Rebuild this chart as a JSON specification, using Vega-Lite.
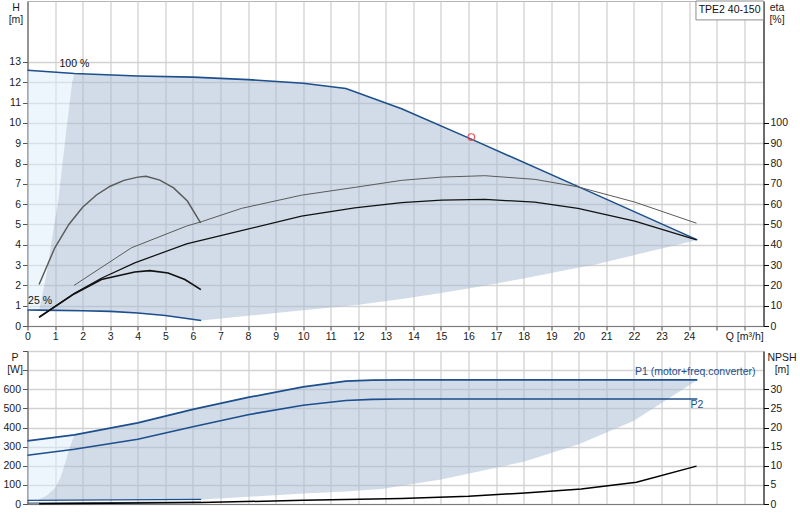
{
  "$schema": "https://vega.github.io/schema/vega-lite/v6.json",
  "background": "white",
  "padding": {"left": 1.5, "top": 0, "right": 0, "bottom": 0},
  "config": {
    "font": "Liberation Sans",
    "view": {"stroke": "#b4b4b4", "strokeWidth": 1},
    "axis": {
      "labelFont": "Liberation Sans", "labelFontSize": 10.5, "labelColor": "#1a1a1a",
      "titleFont": "Liberation Sans", "titleFontSize": 10.5, "titleFontWeight": "normal", "titleColor": "#1a1a1a",
      "gridColor": "#d2d2d2", "gridWidth": 1.3, "tickSize": 5, "labelPadding": 2,
      "labelFlush": false, "labelOverlap": false, "titleLineHeight": 12
    },
    "text": {"font": "Liberation Sans", "fontSize": 10.5}
  },
  "datasets": {
    "head": [
      {"curve": "100 %", "Q": 0, "H": 12.59}, {"curve": "100 %", "Q": 1.7, "H": 12.43}, {"curve": "100 %", "Q": 4, "H": 12.31},
      {"curve": "100 %", "Q": 6, "H": 12.25}, {"curve": "100 %", "Q": 8, "H": 12.13}, {"curve": "100 %", "Q": 10, "H": 11.95},
      {"curve": "100 %", "Q": 11.55, "H": 11.69}, {"curve": "100 %", "Q": 13.57, "H": 10.7}, {"curve": "100 %", "Q": 16.1, "H": 9.2},
      {"curve": "100 %", "Q": 20, "H": 6.85}, {"curve": "100 %", "Q": 24.3, "H": 4.24},
      {"curve": "25 %", "Q": 0, "H": 0.79}, {"curve": "25 %", "Q": 0.42, "H": 0.78}, {"curve": "25 %", "Q": 2, "H": 0.75},
      {"curve": "25 %", "Q": 3, "H": 0.72}, {"curve": "25 %", "Q": 4, "H": 0.64}, {"curve": "25 %", "Q": 5, "H": 0.52},
      {"curve": "25 %", "Q": 6.3, "H": 0.27}
    ],
    "headArea": [
      {"zone": "low", "Q": 0, "H": 12.59, "H_low": 0.79}, {"zone": "low", "Q": 0.42, "H": 12.55, "H_low": 0.78},
      {"zone": "low", "Q": 0.55, "H": 12.54, "H_low": 1.6}, {"zone": "low", "Q": 0.69, "H": 12.53, "H_low": 2.53},
      {"zone": "low", "Q": 0.93, "H": 12.5, "H_low": 4.67}, {"zone": "low", "Q": 1.11, "H": 12.48, "H_low": 6.1},
      {"zone": "low", "Q": 1.39, "H": 12.46, "H_low": 9.4}, {"zone": "low", "Q": 1.62, "H": 12.44, "H_low": 12.0},
      {"zone": "low", "Q": 1.7, "H": 12.43, "H_low": 12.43},
      {"zone": "range", "Q": 0.42, "H": 0.78, "H_low": 0.78}, {"zone": "range", "Q": 0.55, "H": 1.6, "H_low": 0.78},
      {"zone": "range", "Q": 0.69, "H": 2.53, "H_low": 0.775}, {"zone": "range", "Q": 0.93, "H": 4.67, "H_low": 0.77},
      {"zone": "range", "Q": 1.11, "H": 6.1, "H_low": 0.77}, {"zone": "range", "Q": 1.39, "H": 9.4, "H_low": 0.765},
      {"zone": "range", "Q": 1.62, "H": 12.0, "H_low": 0.76}, {"zone": "range", "Q": 1.7, "H": 12.43, "H_low": 0.755},
      {"zone": "range", "Q": 2, "H": 12.41, "H_low": 0.75}, {"zone": "range", "Q": 3, "H": 12.36, "H_low": 0.72},
      {"zone": "range", "Q": 4, "H": 12.31, "H_low": 0.64}, {"zone": "range", "Q": 5, "H": 12.28, "H_low": 0.52},
      {"zone": "range", "Q": 6, "H": 12.25, "H_low": 0.33}, {"zone": "range", "Q": 6.3, "H": 12.24, "H_low": 0.27},
      {"zone": "range", "Q": 8, "H": 12.13, "H_low": 0.5}, {"zone": "range", "Q": 9, "H": 12.04, "H_low": 0.64},
      {"zone": "range", "Q": 10, "H": 11.95, "H_low": 0.77}, {"zone": "range", "Q": 11.55, "H": 11.69, "H_low": 0.98},
      {"zone": "range", "Q": 12, "H": 11.47, "H_low": 1.05}, {"zone": "range", "Q": 13.57, "H": 10.7, "H_low": 1.33},
      {"zone": "range", "Q": 15, "H": 9.86, "H_low": 1.63}, {"zone": "range", "Q": 16.1, "H": 9.2, "H_low": 1.87},
      {"zone": "range", "Q": 18, "H": 8.03, "H_low": 2.34}, {"zone": "range", "Q": 20, "H": 6.85, "H_low": 2.88},
      {"zone": "range", "Q": 20.5, "H": 6.55, "H_low": 2.99}, {"zone": "range", "Q": 22.1, "H": 5.58, "H_low": 3.52},
      {"zone": "range", "Q": 24.3, "H": 4.24, "H_low": 4.24}
    ],
    "eta": [
      {"curve": "pump", "Q": 1.69, "eta": 20}, {"curve": "pump", "Q": 3.77, "eta": 38.5}, {"curve": "pump", "Q": 5.77, "eta": 49.2},
      {"curve": "pump", "Q": 6.3, "eta": 51.3}, {"curve": "pump", "Q": 7.76, "eta": 57.9}, {"curve": "pump", "Q": 9.94, "eta": 64.4},
      {"curve": "pump", "Q": 11.9, "eta": 68.3}, {"curve": "pump", "Q": 13.57, "eta": 71.7}, {"curve": "pump", "Q": 15.02, "eta": 73.3},
      {"curve": "pump", "Q": 16.59, "eta": 74.0}, {"curve": "pump", "Q": 18.4, "eta": 72.2}, {"curve": "pump", "Q": 19.97, "eta": 68.5},
      {"curve": "pump", "Q": 22.03, "eta": 61}, {"curve": "pump", "Q": 24.27, "eta": 50.6},
      {"curve": "total", "Q": 0.42, "eta": 4.3}, {"curve": "total", "Q": 1.69, "eta": 16}, {"curve": "total", "Q": 2.68, "eta": 23.5},
      {"curve": "total", "Q": 3.89, "eta": 31.1}, {"curve": "total", "Q": 5.77, "eta": 40.4}, {"curve": "total", "Q": 7.76, "eta": 47.0},
      {"curve": "total", "Q": 9.94, "eta": 54.1}, {"curve": "total", "Q": 11.87, "eta": 58.2}, {"curve": "total", "Q": 13.57, "eta": 60.7},
      {"curve": "total", "Q": 15.02, "eta": 62.0}, {"curve": "total", "Q": 16.59, "eta": 62.3}, {"curve": "total", "Q": 18.4, "eta": 61.0},
      {"curve": "total", "Q": 19.97, "eta": 57.9}, {"curve": "total", "Q": 22.03, "eta": 51.6}, {"curve": "total", "Q": 24.27, "eta": 42.4},
      {"curve": "pump 25 %", "Q": 0.42, "eta": 20.4}, {"curve": "pump 25 %", "Q": 0.99, "eta": 38.5}, {"curve": "pump 25 %", "Q": 1.5, "eta": 50},
      {"curve": "pump 25 %", "Q": 2.0, "eta": 58.5}, {"curve": "pump 25 %", "Q": 2.5, "eta": 64.5}, {"curve": "pump 25 %", "Q": 3.0, "eta": 68.8},
      {"curve": "pump 25 %", "Q": 3.5, "eta": 71.7}, {"curve": "pump 25 %", "Q": 4.0, "eta": 73.3}, {"curve": "pump 25 %", "Q": 4.3, "eta": 73.7},
      {"curve": "pump 25 %", "Q": 4.8, "eta": 71.8}, {"curve": "pump 25 %", "Q": 5.3, "eta": 68.0}, {"curve": "pump 25 %", "Q": 5.8, "eta": 61.5},
      {"curve": "pump 25 %", "Q": 6.28, "eta": 50.8},
      {"curve": "total 25 %", "Q": 0.42, "eta": 4.3}, {"curve": "total 25 %", "Q": 1.69, "eta": 15.8}, {"curve": "total 25 %", "Q": 2.68, "eta": 22.9},
      {"curve": "total 25 %", "Q": 3.89, "eta": 26.6}, {"curve": "total 25 %", "Q": 4.44, "eta": 27.3}, {"curve": "total 25 %", "Q": 5.1, "eta": 26.1},
      {"curve": "total 25 %", "Q": 5.71, "eta": 22.9}, {"curve": "total 25 %", "Q": 6.29, "eta": 17.9}
    ],
    "power": [
      {"curve": "P1", "Q": 0, "P": 330}, {"curve": "P1", "Q": 1.7, "P": 361}, {"curve": "P1", "Q": 4, "P": 424},
      {"curve": "P1", "Q": 6, "P": 495}, {"curve": "P1", "Q": 8, "P": 557}, {"curve": "P1", "Q": 10, "P": 613},
      {"curve": "P1", "Q": 11.55, "P": 642}, {"curve": "P1", "Q": 12.5, "P": 648}, {"curve": "P1", "Q": 13.57, "P": 649},
      {"curve": "P1", "Q": 24.3, "P": 649},
      {"curve": "P2", "Q": 0, "P": 255}, {"curve": "P2", "Q": 1.7, "P": 286}, {"curve": "P2", "Q": 4, "P": 339},
      {"curve": "P2", "Q": 6, "P": 404}, {"curve": "P2", "Q": 8, "P": 467}, {"curve": "P2", "Q": 10, "P": 516},
      {"curve": "P2", "Q": 11.55, "P": 541}, {"curve": "P2", "Q": 12.5, "P": 547}, {"curve": "P2", "Q": 13.57, "P": 549},
      {"curve": "P2", "Q": 24.3, "P": 549},
      {"curve": "P1 25 %", "Q": 0, "P": 19}, {"curve": "P1 25 %", "Q": 6.3, "P": 24},
      {"curve": "P2 25 %", "Q": 0, "P": 5}, {"curve": "P2 25 %", "Q": 6.3, "P": 10}
    ],
    "powerArea": [
      {"zone": "low", "Q": 0, "P": 330, "P_low": 18}, {"zone": "low", "Q": 0.35, "P": 336, "P_low": 20},
      {"zone": "low", "Q": 0.7, "P": 343, "P_low": 45}, {"zone": "low", "Q": 1.0, "P": 349, "P_low": 84},
      {"zone": "low", "Q": 1.2, "P": 353, "P_low": 140}, {"zone": "low", "Q": 1.35, "P": 355, "P_low": 207},
      {"zone": "low", "Q": 1.53, "P": 358, "P_low": 295}, {"zone": "low", "Q": 1.7, "P": 361, "P_low": 361},
      {"zone": "range", "Q": 0.35, "P": 20, "P_low": 20}, {"zone": "range", "Q": 0.7, "P": 45, "P_low": 20},
      {"zone": "range", "Q": 1.0, "P": 84, "P_low": 20}, {"zone": "range", "Q": 1.2, "P": 140, "P_low": 20.5},
      {"zone": "range", "Q": 1.35, "P": 207, "P_low": 20.5}, {"zone": "range", "Q": 1.53, "P": 295, "P_low": 20.5},
      {"zone": "range", "Q": 1.7, "P": 361, "P_low": 21}, {"zone": "range", "Q": 4, "P": 424, "P_low": 22},
      {"zone": "range", "Q": 6, "P": 495, "P_low": 24}, {"zone": "range", "Q": 6.3, "P": 504, "P_low": 24},
      {"zone": "range", "Q": 8, "P": 557, "P_low": 38}, {"zone": "range", "Q": 10, "P": 613, "P_low": 55},
      {"zone": "range", "Q": 11.55, "P": 642, "P_low": 66}, {"zone": "range", "Q": 12.84, "P": 648, "P_low": 78},
      {"zone": "range", "Q": 13.57, "P": 649, "P_low": 95}, {"zone": "range", "Q": 15, "P": 649, "P_low": 128},
      {"zone": "range", "Q": 18, "P": 649, "P_low": 221}, {"zone": "range", "Q": 20, "P": 649, "P_low": 312},
      {"zone": "range", "Q": 22, "P": 649, "P_low": 435}, {"zone": "range", "Q": 24.3, "P": 649, "P_low": 649}
    ],
    "npsh": [
      {"Q": 0.42, "NPSH": 0.05}, {"Q": 3, "NPSH": 0.2}, {"Q": 6.3, "NPSH": 0.4}, {"Q": 10, "NPSH": 0.95},
      {"Q": 13.57, "NPSH": 1.45}, {"Q": 16, "NPSH": 2.0}, {"Q": 18.04, "NPSH": 2.9}, {"Q": 20.09, "NPSH": 3.95},
      {"Q": 22.09, "NPSH": 5.7}, {"Q": 24.27, "NPSH": 9.9}
    ]
  },
  "spacing": 25,
  "bounds": "flush",
  "resolve": {"scale": {"color": "independent", "strokeWidth": "independent"}},
  "vconcat": [
    {
      "width": 736,
      "height": 325,
      "encoding": {
        "x": {
          "field": "Q", "type": "quantitative",
          "scale": {"domain": [0, 26.7], "nice": false, "zero": false},
          "axis": {
            "values": [0, 1, 2, 3, 4, 5, 6, 7, 8, 9, 10, 11, 12, 13, 14, 15, 16, 17, 18, 19, 20, 21, 22, 23, 24, 25, 26],
            "labelExpr": "datum.value == 26 ? 'Q [m³/h]' : (datum.value == 25 ? '' : datum.label)",
            "title": null, "grid": true, "tickSize": 4, "labelPadding": 1,
            "domainColor": "#7a7a7a", "tickColor": "#444"
          }
        }
      },
      "layer": [
        {
          "encoding": {
            "y": {
              "field": "H", "type": "quantitative",
              "scale": {"domain": [0, 16], "nice": false},
              "axis": {
                "values": [0, 1, 2, 3, 4, 5, 6, 7, 8, 9, 10, 11, 12, 13],
                "title": ["H", "[m]"], "titleAngle": 0, "titleAlign": "center", "titleBaseline": "top",
                "titleX": -12, "titleY": 1, "grid": true,
                "domainColor": "#555", "tickColor": "#555"
              }
            }
          },
          "layer": [
            {
              "data": {"values": [{"H": 14}, {"H": 15}]},
              "mark": {"type": "rule", "color": "#d2d2d2", "strokeWidth": 1.3}
            },
            {
              "data": {"name": "headArea"},
              "transform": [{"filter": "datum.zone == 'low'"}],
              "mark": {"type": "area", "color": "#dbebfb", "opacity": 0.5},
              "encoding": {"y2": {"field": "H_low"}}
            },
            {
              "data": {"name": "headArea"},
              "transform": [{"filter": "datum.zone == 'range'"}],
              "mark": {"type": "area", "color": "#a3bad2", "opacity": 0.5},
              "encoding": {"y2": {"field": "H_low"}}
            },
            {
              "data": {"name": "head"},
              "mark": {"type": "line", "color": "#1c4f8c", "strokeWidth": 1.6},
              "encoding": {"detail": {"field": "curve", "type": "nominal"}}
            },
            {
              "data": {"values": [{"Q": 16.1, "H": 9.3}]},
              "mark": {"type": "point", "shape": "circle", "filled": false, "color": "#e8505a", "size": 45, "strokeWidth": 1.2, "opacity": 1}
            },
            {
              "data": {"values": [{"text": "100 %", "Q": 1.16, "H": 12.9}, {"text": "25 %", "Q": 0.02, "H": 1.22}]},
              "mark": {"type": "text", "align": "left", "baseline": "middle", "color": "#111"},
              "encoding": {"text": {"field": "text"}}
            },
            {
              "data": {"values": [{"Q": 24.25, "Q2": 26.7, "H": 16, "H_low": 15.07}]},
              "mark": {"type": "rect", "fill": "white", "stroke": "#8c8c8c", "strokeWidth": 1},
              "encoding": {"x2": {"field": "Q2"}, "y2": {"field": "H_low"}}
            },
            {
              "data": {"values": [{"text": "TPE2 40-150", "Q": 25.47, "H": 15.56}]},
              "mark": {"type": "text", "align": "center", "baseline": "middle", "color": "#111"},
              "encoding": {"text": {"field": "text"}}
            }
          ]
        },
        {
          "data": {"name": "eta"},
          "mark": {"type": "line"},
          "encoding": {
            "y": {
              "field": "eta", "type": "quantitative",
              "scale": {"domain": [0, 160], "nice": false},
              "axis": {
                "orient": "right",
                "values": [0, 10, 20, 30, 40, 50, 60, 70, 80, 90, 100],
                "title": ["eta", "[%]"], "titleAngle": 0, "titleAlign": "center", "titleBaseline": "top",
                "titleX": 13, "titleY": 1, "grid": false,
                "domainColor": "#000", "tickColor": "#000", "labelPadding": 1.5
              }
            },
            "color": {
              "field": "curve", "type": "nominal", "legend": null,
              "scale": {"domain": ["pump", "total", "pump 25 %", "total 25 %"], "range": ["#5a5a5a", "#111111", "#5a5a5a", "#111111"]}
            },
            "strokeWidth": {
              "field": "curve", "type": "nominal", "legend": null,
              "scale": {"domain": ["pump", "total", "pump 25 %", "total 25 %"], "range": [1, 1.7, 1, 1.7]}
            }
          }
        }
      ],
      "resolve": {"scale": {"y": "independent"}}
    },
    {
      "width": 736,
      "height": 153,
      "encoding": {
        "x": {
          "field": "Q", "type": "quantitative",
          "scale": {"domain": [0, 26.7], "nice": false, "zero": false},
          "axis": {
            "values": [0, 1, 2, 3, 4, 5, 6, 7, 8, 9, 10, 11, 12, 13, 14, 15, 16, 17, 18, 19, 20, 21, 22, 23, 24, 25, 26],
            "labels": false, "ticks": false, "title": null, "grid": true, "domainColor": "#7a7a7a"
          }
        }
      },
      "layer": [
        {
          "encoding": {
            "y": {
              "field": "P", "type": "quantitative",
              "scale": {"domain": [0, 800], "nice": false},
              "axis": {
                "values": [0, 100, 200, 300, 400, 500, 600, 700, 800],
                "labelExpr": "datum.value <= 600 ? datum.label : ''",
                "title": ["P", "[W]"], "titleAngle": 0, "titleAlign": "center", "titleBaseline": "top",
                "titleX": -13, "titleY": 1, "grid": true,
                "domainColor": "#555", "tickColor": "#555"
              }
            }
          },
          "layer": [
            {
              "data": {"name": "powerArea"},
              "transform": [{"filter": "datum.zone == 'low'"}],
              "mark": {"type": "area", "color": "#dbebfb", "opacity": 0.5},
              "encoding": {"y2": {"field": "P_low"}}
            },
            {
              "data": {"name": "powerArea"},
              "transform": [{"filter": "datum.zone == 'range'"}],
              "mark": {"type": "area", "color": "#a3bad2", "opacity": 0.5},
              "encoding": {"y2": {"field": "P_low"}}
            },
            {
              "data": {"name": "power"},
              "mark": {"type": "line"},
              "encoding": {
                "color": {
                  "field": "curve", "type": "nominal", "legend": null,
                  "scale": {"domain": ["P1", "P2", "P1 25 %", "P2 25 %"], "range": ["#1c4f8c", "#1c4f8c", "#1c4f8c", "#4f6580"]}
                },
                "strokeWidth": {
                  "field": "curve", "type": "nominal", "legend": null,
                  "scale": {"domain": ["P1", "P2", "P1 25 %", "P2 25 %"], "range": [1.8, 1.2, 1.6, 1.2]}
                }
              }
            },
            {
              "data": {"values": [{"text": "P1 (motor+freq.converter)", "Q": 26.41, "P": 692}]},
              "mark": {"type": "text", "align": "right", "baseline": "middle", "color": "#1c4f8c"},
              "encoding": {"text": {"field": "text"}}
            },
            {
              "data": {"values": [{"text": "P2", "Q": 24.05, "P": 518}]},
              "mark": {"type": "text", "align": "left", "baseline": "middle", "color": "#1c4f8c"},
              "encoding": {"text": {"field": "text"}}
            }
          ]
        },
        {
          "data": {"name": "npsh"},
          "mark": {"type": "line", "color": "#000", "strokeWidth": 1.5},
          "encoding": {
            "y": {
              "field": "NPSH", "type": "quantitative",
              "scale": {"domain": [0, 40], "nice": false},
              "axis": {
                "orient": "right",
                "values": [0, 5, 10, 15, 20, 25, 30],
                "title": ["NPSH", "[m]"], "titleAngle": 0, "titleAlign": "center", "titleBaseline": "top",
                "titleX": 18, "titleY": 1, "grid": false,
                "domainColor": "#000", "tickColor": "#000", "labelPadding": 1.5
              }
            }
          }
        }
      ],
      "resolve": {"scale": {"y": "independent"}}
    }
  ]
}
